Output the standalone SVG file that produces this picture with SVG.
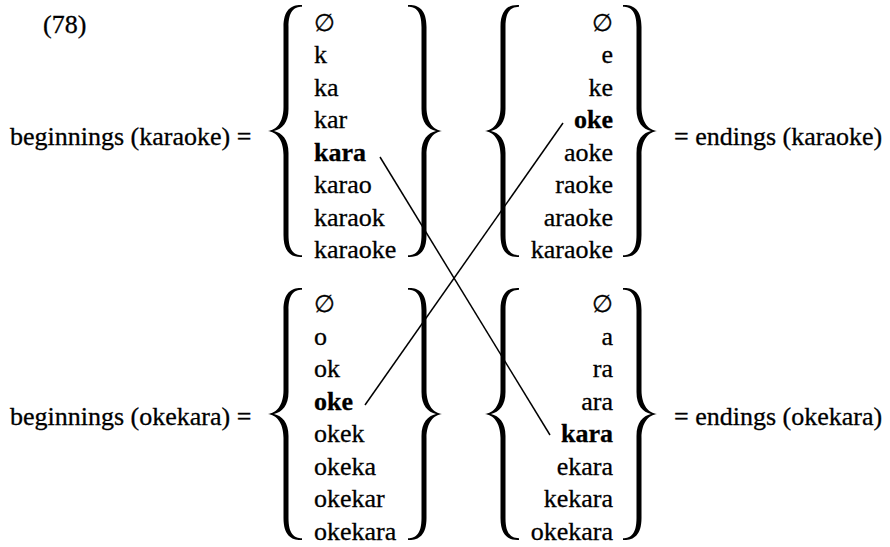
<svg xmlns="http://www.w3.org/2000/svg" width="890" height="547" viewBox="0 0 890 547" font-family="'Liberation Serif', 'Times New Roman', Times, serif">
<style>
text{font-size:26px;fill:#000;stroke:#000;stroke-width:0.3}
.b{font-weight:bold}
.r{text-anchor:end}
.e{font-family:"DejaVu Serif","Liberation Serif",serif;font-size:24px}
.brace{fill:#000}
.conn line{stroke:#000;stroke-width:1.5}
</style>
<defs>
<path id="lb" class="brace" d="M34,-126 C24,-126.5 15.5,-122 15.5,-104 L15.5,-24 C15.5,-8 8,-1 0,0 C8,1 15.5,8 15.5,24 L15.5,104 C15.5,122 24,126.5 34,126 L34,124.3 C26,124 20.5,120 20.5,104 L20.5,22 C20.5,8 14,2 6,0 C14,-2 20.5,-8 20.5,-22 L20.5,-104 C20.5,-120 26,-124 34,-124.3 Z"/>
</defs>
<rect width="890" height="547" fill="#fff"/>
<text x="43" y="33">(78)</text>

<g id="labels">
<text x="10" y="145">beginnings (karaoke) =</text>
<text x="674" y="145">= endings (karaoke)</text>
<text x="10" y="425">beginnings (okekara) =</text>
<text x="674" y="425">= endings (okekara)</text>
</g>

<g id="beginnings-karaoke">
<use href="#lb" transform="translate(268,131)"/>
<use href="#lb" transform="translate(442,131) scale(-1,1)"/>
<text class="e" x="314" y="31">∅</text>
<text x="314" y="63">k</text>
<text x="314" y="96">ka</text>
<text x="314" y="128">kar</text>
<text class="b" x="314" y="161">kara</text>
<text x="314" y="193">karao</text>
<text x="314" y="226">karaok</text>
<text x="314" y="258">karaoke</text>
</g>

<g id="endings-karaoke">
<use href="#lb" transform="translate(485,131)"/>
<use href="#lb" transform="translate(657,131) scale(-1,1)"/>
<text class="e r" x="613" y="31">∅</text>
<text class="r" x="613" y="63">e</text>
<text class="r" x="613" y="96">ke</text>
<text class="b r" x="613" y="128">oke</text>
<text class="r" x="613" y="161">aoke</text>
<text class="r" x="613" y="193">raoke</text>
<text class="r" x="613" y="226">araoke</text>
<text class="r" x="613" y="258">karaoke</text>
</g>

<g id="beginnings-okekara">
<use href="#lb" transform="translate(268,414)"/>
<use href="#lb" transform="translate(442,414) scale(-1,1)"/>
<text class="e" x="314" y="312">∅</text>
<text x="314" y="345">o</text>
<text x="314" y="377">ok</text>
<text class="b" x="314" y="410">oke</text>
<text x="314" y="442">okek</text>
<text x="314" y="475">okeka</text>
<text x="314" y="507">okekar</text>
<text x="314" y="540">okekara</text>
</g>

<g id="endings-okekara">
<use href="#lb" transform="translate(485,414)"/>
<use href="#lb" transform="translate(657,414) scale(-1,1)"/>
<text class="e r" x="613" y="312">∅</text>
<text class="r" x="613" y="345">a</text>
<text class="r" x="613" y="377">ra</text>
<text class="r" x="613" y="410">ara</text>
<text class="b r" x="613" y="442">kara</text>
<text class="r" x="613" y="475">ekara</text>
<text class="r" x="613" y="507">kekara</text>
<text class="r" x="613" y="540">okekara</text>
</g>

<g id="connectors" class="conn">
<line x1="380" y1="157" x2="550" y2="435"/>
<line x1="365" y1="405" x2="563" y2="123"/>
</g>
</svg>
